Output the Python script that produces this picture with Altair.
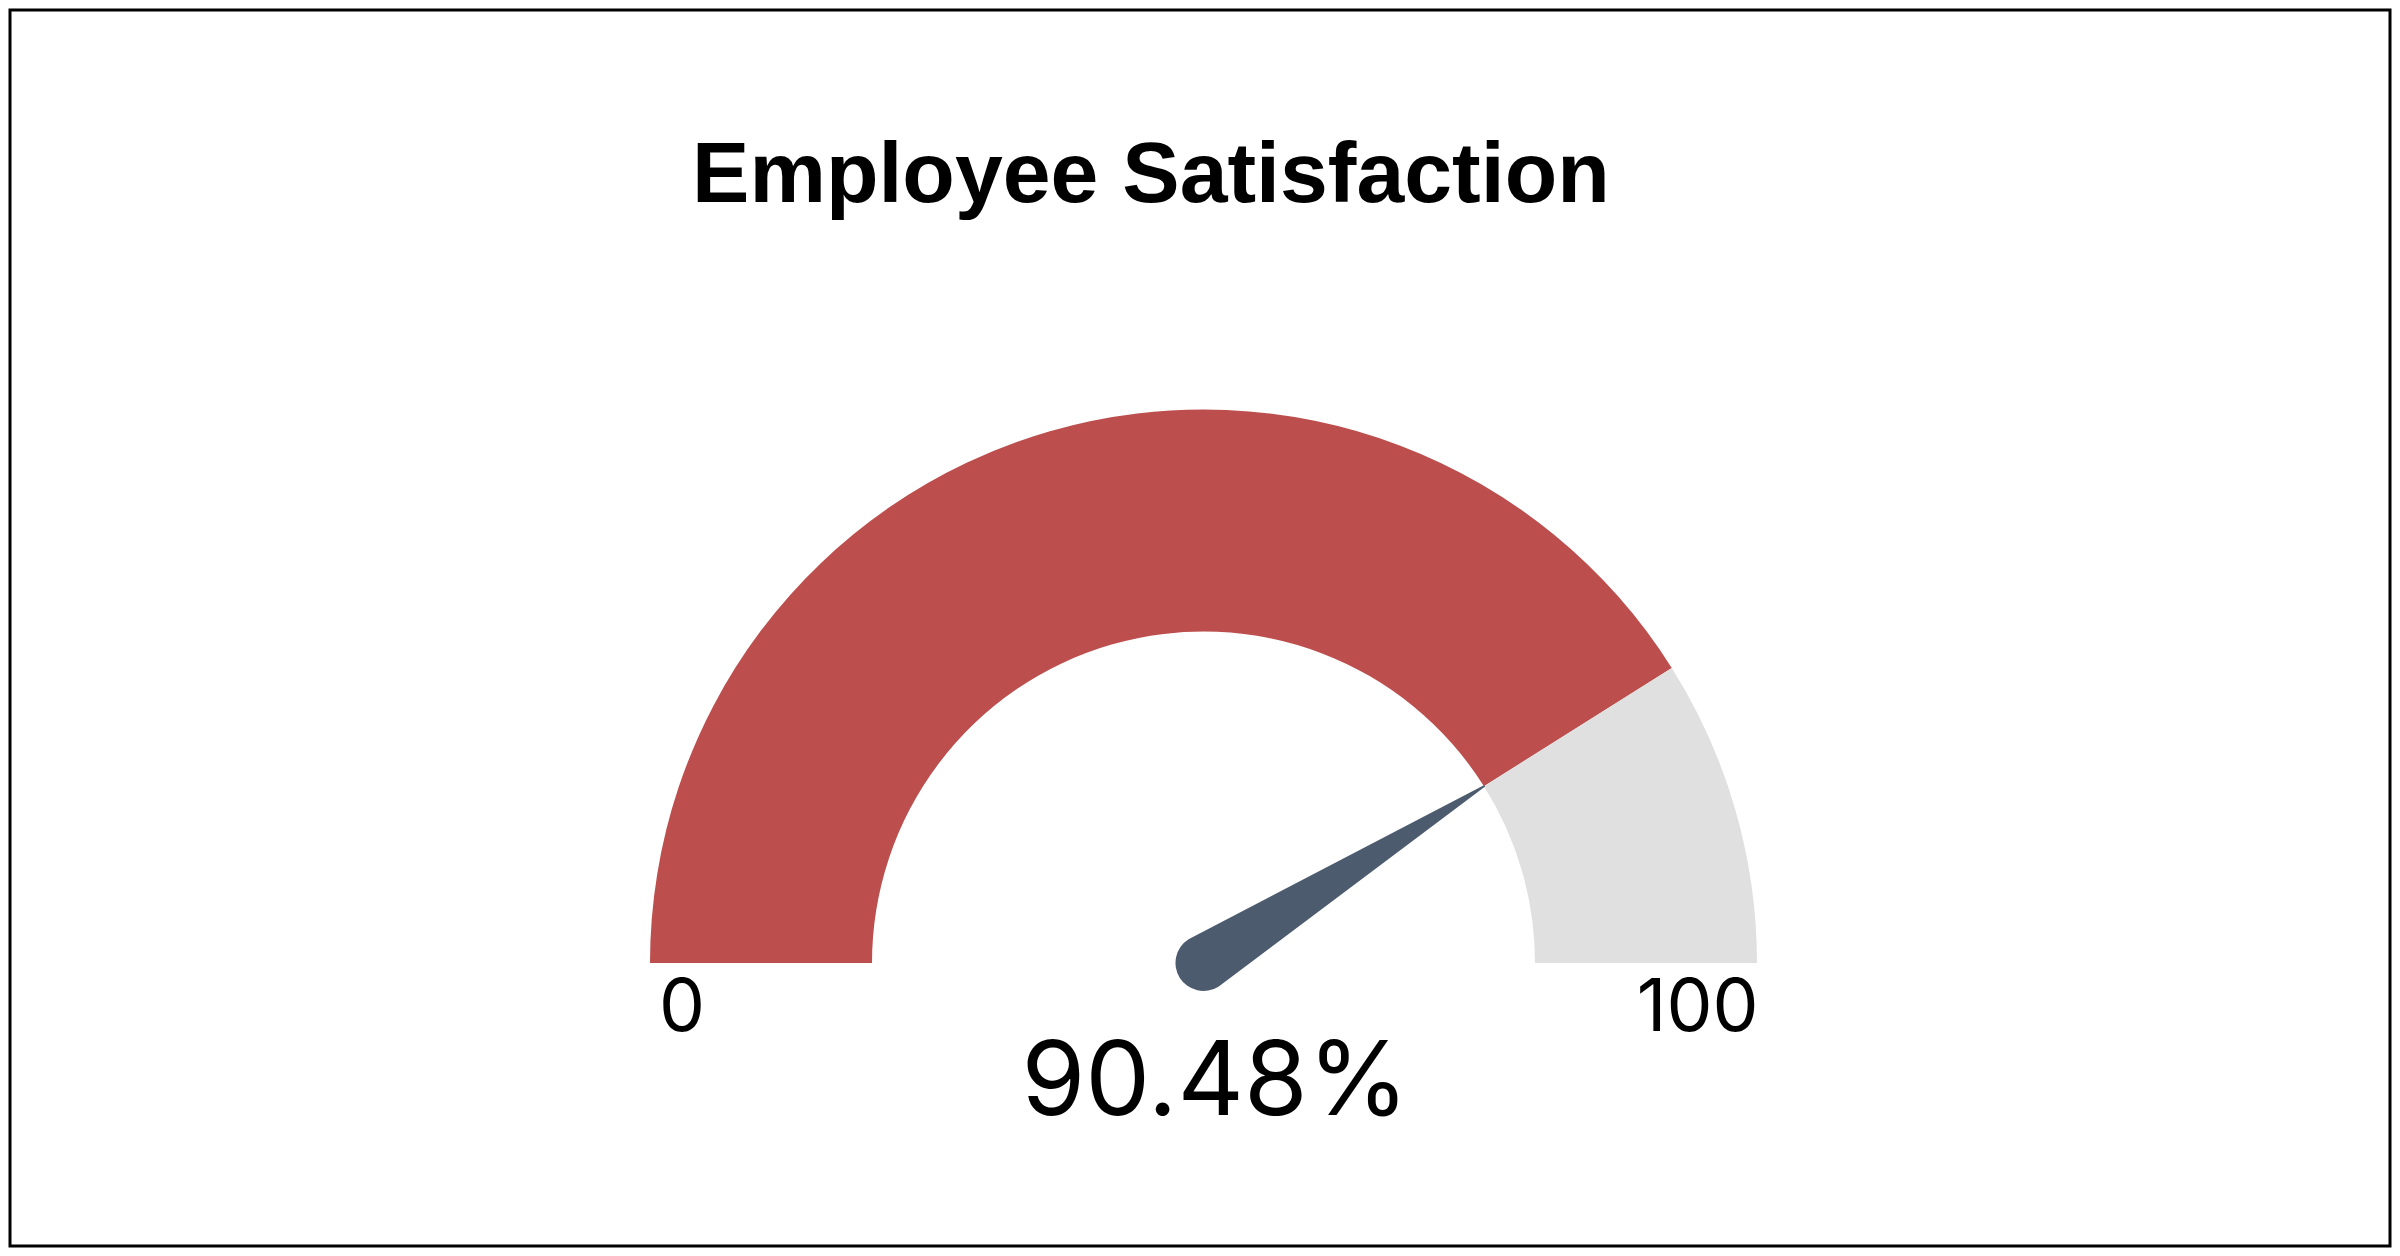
import math
import altair as alt
import pandas as pd

# ---------------- data ----------------
title_text = "Employee Satisfaction"
gauge_min = 0
gauge_max = 100
needle_value = 82.1          # where the needle / filled band ends on the dial
display_value = 90.48        # number printed under the gauge
band_names = ["filled", "remaining"]
band_starts = [0, 82.1]
band_ends = [82.1, 100]
band_colors = ["#BD4E4E", "#E0E0E0"]
tick_values = [0, 100]
tick_texts = ["0", "100"]

# ---------------- layout ----------------
W, H, PAD = 2380, 1236, 2
CX, CY = 1193.5, 953.0          # gauge centre inside the plot area (px)
R_OUT, R_IN = 553.5, 331.5      # outer / inner radius (px)
NEEDLE_BASE_W, NEEDLE_TIP_W = 56, 2

xs = alt.Scale(domain=[-CX / R_OUT, (W - CX) / R_OUT], range=[0, W], nice=False, zero=False)
ys = alt.Scale(domain=[-(H - CY) / R_OUT, CY / R_OUT], range=[H, 0], nice=False, zero=False)
theta_scale = alt.Scale(domain=[gauge_min, gauge_max], range=[-math.pi / 2, math.pi / 2])

# bands
bands = pd.DataFrame({"band": band_names, "start": band_starts, "end": band_ends,
                      "cx": [0.0] * len(band_names), "cy": [0.0] * len(band_names)})
arcs = alt.Chart(bands).mark_arc(radius=R_OUT, radius2=R_IN, stroke=None).encode(
    x=alt.X("cx:Q", scale=xs, axis=None),
    y=alt.Y("cy:Q", scale=ys, axis=None),
    theta=alt.Theta("start:Q", scale=theta_scale, stack=None),
    theta2="end:Q",
    color=alt.Color("band:N", scale=alt.Scale(domain=band_names, range=band_colors), legend=None),
)

# needle
ang = math.pi * (1 - (needle_value - gauge_min) / (gauge_max - gauge_min))
tip_r = R_IN / R_OUT
needle_df = pd.DataFrame({
    "x": [0.0, tip_r * math.cos(ang)],
    "y": [0.0, tip_r * math.sin(ang)],
    "w": [NEEDLE_BASE_W, NEEDLE_TIP_W],
    "o": [0, 1],
})
needle = alt.Chart(needle_df).mark_trail(color="#4D5B6E").encode(
    x=alt.X("x:Q", scale=xs, axis=None),
    y=alt.Y("y:Q", scale=ys, axis=None),
    size=alt.Size("w:Q", scale=None, legend=None),
    order="o:Q",
)

# end labels
tick_df = pd.DataFrame({"label": tick_texts, "v": tick_values,
                        "x": [-0.942, 0.893], "y": [-0.123, -0.123]})
ticks = alt.Chart(tick_df).mark_text(font="Inter", fontSize=73, color="#000000",
                                     align="center", baseline="alphabetic").encode(
    x=alt.X("x:Q", scale=xs, axis=None),
    y=alt.Y("y:Q", scale=ys, axis=None),
    text="label:N",
)

# value label
val_df = pd.DataFrame({"label": [f"{display_value:.2f}%"], "x": [0.021], "y": [-0.275]})
value_text = alt.Chart(val_df).mark_text(font="Inter", fontSize=103, color="#000000",
                                         align="center", baseline="alphabetic").encode(
    x=alt.X("x:Q", scale=xs, axis=None),
    y=alt.Y("y:Q", scale=ys, axis=None),
    text="label:N",
)

# title
title_df = pd.DataFrame({"label": [title_text], "x": [-0.095], "y": [1.375]})
title = alt.Chart(title_df).mark_text(font="Liberation Sans", fontSize=86, fontWeight="bold",
                                      color="#000000", align="center", baseline="alphabetic").encode(
    x=alt.X("x:Q", scale=xs, axis=None),
    y=alt.Y("y:Q", scale=ys, axis=None),
    text="label:N",
)

chart = alt.layer(arcs, needle, ticks, value_text, title).properties(
    width=W, height=H, padding=PAD, autosize=alt.AutoSizeParams(type="none"),
    background="#ffffff",
).configure_view(stroke="#000000", strokeWidth=3)

chart.save("out.html", embed_options={"renderer": "svg", "actions": False})
